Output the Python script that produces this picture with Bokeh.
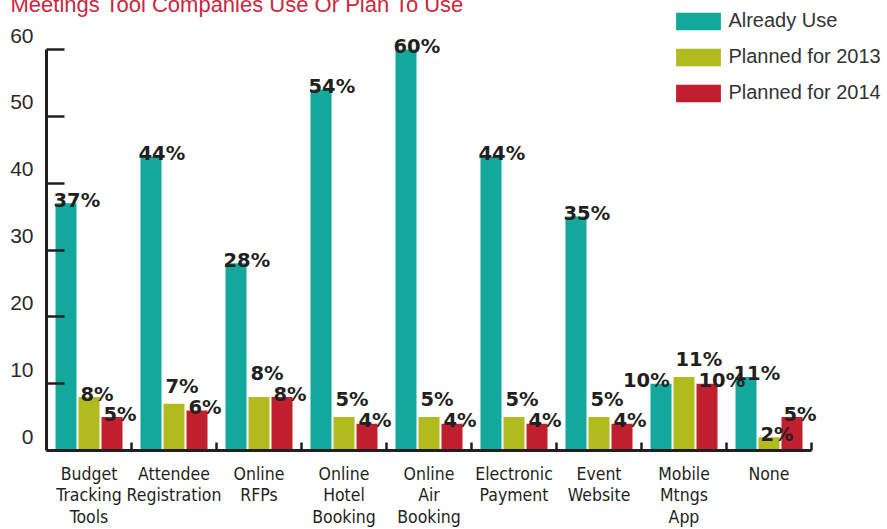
from bokeh.plotting import figure
from bokeh.models import ColumnDataSource, Range1d, LinearAxis, FixedTicker, Title, Grid
from bokeh.core.properties import value
from bokeh.embed import file_html
from bokeh.resources import INLINE

# ---------------- data ----------------
categories = ["Budget\nTracking\nTools", "Attendee\nRegistration", "Online\nRFPs",
              "Online\nHotel\nBooking", "Online\nAir\nBooking", "Electronic\nPayment",
              "Event\nWebsite", "Mobile\nMtngs\nApp", "None"]
already_use = [37, 44, 28, 54, 60, 44, 35, 10, 11]
planned_2013 = [8, 7, 8, 5, 5, 5, 5, 11, 2]
planned_2014 = [5, 6, 8, 4, 4, 4, 4, 10, 5]
series_names = ["Already Use", "Planned for 2013", "Planned for 2014"]
y_ticks = [0, 10, 20, 30, 40, 50, 60]
title_text = "Meetings Tool Companies Use Or Plan To Use"

# ---------------- layout / style ----------------
COLORS = ["#13a89c", "#b1bb1e", "#c01f2e"]
DARK = "#231f20"
W, H = 887, 529
FRAME_LEFT = 46
FRAME_TOP = 8
FRAME_BOTTOM = 450
CAT_PX = 85.0
PXU = (450 - 49) / 60.0          # pixels per value unit
BAR_PX = 21.0
STEP_PX = 23.0

x_end = (W - FRAME_LEFT) / CAT_PX
y_end = (FRAME_BOTTOM - FRAME_TOP) / PXU
n = len(categories)
series = [already_use, planned_2013, planned_2014]
offsets_px = [-STEP_PX, 0.0, STEP_PX]

p = figure(width=W, height=H, x_range=Range1d(0, x_end), y_range=Range1d(0, y_end),
           output_backend="svg", toolbar_location=None,
           x_axis_location=None, y_axis_location=None,
           min_border_left=FRAME_LEFT, min_border_right=0, min_border_top=FRAME_TOP,
           min_border_bottom=H - FRAME_BOTTOM, outline_line_color=None,
           background_fill_color="white", border_fill_color="white")
p.center = [r for r in p.center if not isinstance(r, Grid)]

# title (partly cut at the top, as in the original)
p.add_layout(Title(text=title_text, align="left", offset=10 - FRAME_LEFT, standoff=-21,
                   vertical_align="top", text_font="Liberation Sans", text_font_size="22px",
                   text_font_style="normal", text_color="#c9283e"), "above")

# bars
for s, vals in enumerate(series):
    xs = [i + 0.5 + offsets_px[s] / CAT_PX for i in range(n)]
    src = ColumnDataSource(dict(x=xs, top=vals))
    p.vbar(x="x", top="top", bottom=0, width=BAR_PX / CAT_PX, source=src,
           fill_color=COLORS[s], line_color=None, legend_label=series_names[s])

# value labels (simple collision handling like the original)
LBL_H = 14.0
def est_width(t):
    return sum(19.5 if ch == "%" else 13.5 for ch in t)

lab = dict(x=[], y=[], text=[], dx=[], dy=[])
for i in range(n):
    cx = FRAME_LEFT + (i + 0.5) * CAT_PX
    tops = [FRAME_BOTTOM - series[s][i] * PXU for s in range(3)]
    texts = [f"{series[s][i]}%" for s in range(3)]
    # red
    r_left = cx + STEP_PX - BAR_PX / 2 + 2
    r_base = tops[2] - 3
    # yellow
    y_left = cx - BAR_PX / 2 + 2
    y_base = tops[1] - 3
    if (y_left + est_width(texts[1]) > r_left and y_left < r_left + est_width(texts[2])
            and y_base > r_base - LBL_H and y_base - LBL_H < r_base):
        y_base = r_base - 21
    # teal
    t_left = cx - STEP_PX - BAR_PX / 2 - 2
    t_base = tops[0] - 3
    yb_left = cx - BAR_PX / 2
    if t_left + est_width(texts[0]) > yb_left and t_base > tops[1]:
        t_left = cx - STEP_PX + BAR_PX / 2 - 2 - est_width(texts[0])
    for s, (left, base) in enumerate([(t_left, t_base), (y_left, y_base), (r_left, r_base)]):
        bar_cx = cx + offsets_px[s]
        lab["x"].append(i + 0.5 + offsets_px[s] / CAT_PX)
        lab["y"].append(series[s][i])
        lab["text"].append(texts[s])
        lab["dx"].append(left - bar_cx)
        lab["dy"].append(base - tops[s])

p.text(x="x", y="y", text="text", x_offset="dx", y_offset="dy",
       source=ColumnDataSource(lab), text_font=value("DejaVu Sans"),
       text_font_style="bold", text_font_size="19.5px", text_color=DARK,
       text_baseline="alphabetic", text_align="left")

# y axis: line + inward ticks (labels drawn by the next axis)
ya = LinearAxis(ticker=FixedTicker(ticks=y_ticks), bounds=(0, 60),
                major_label_overrides={v: "" for v in y_ticks},
                axis_line_color=DARK, axis_line_width=3,
                major_tick_in=18, major_tick_out=0, major_tick_line_width=2.5,
                major_tick_line_color=DARK, minor_tick_line_color=None,
                major_label_standoff=0)
p.add_layout(ya, "left")
# y axis labels, raised above their ticks
shift = 14.0 / PXU
lab_ticks = [v + shift for v in y_ticks]
yb = LinearAxis(ticker=FixedTicker(ticks=lab_ticks),
                major_label_overrides={t: str(v) for t, v in zip(lab_ticks, y_ticks)},
                axis_line_color=None, major_tick_line_color=None, minor_tick_line_color=None,
                major_tick_in=0, major_tick_out=0,
                major_label_text_font="Liberation Sans", major_label_text_font_size="21px",
                major_label_text_color="#2a2a2a", major_label_standoff=13)
p.add_layout(yb, "left")

# x axis: category labels at centres, small upward ticks at boundaries
centers = [i + 0.5 for i in range(n)]
xa = LinearAxis(ticker=FixedTicker(ticks=centers, minor_ticks=[i + 1 for i in range(n)]),
                bounds=(0, n),
                major_label_overrides={c: lbl for c, lbl in zip(centers, categories)},
                axis_line_color=DARK, axis_line_width=3,
                major_tick_line_color=None, major_tick_in=0, major_tick_out=0,
                minor_tick_in=8, minor_tick_out=0, minor_tick_line_width=2.5,
                minor_tick_line_color=DARK,
                major_label_text_font="DejaVu Sans Condensed, Liberation Sans",
                major_label_text_font_size="17.5px", major_label_text_color=DARK,
                major_label_text_line_height=1.08, major_label_standoff=13)
p.add_layout(xa, "below")

# legend
leg = p.legend[0]
leg.location = (670.4 - FRAME_LEFT, FRAME_BOTTOM - 104)
leg.glyph_width = 56
leg.glyph_height = 22
leg.label_height = 22
leg.spacing = 13
leg.padding = 0
leg.margin = 0
leg.label_standoff = 2
leg.border_line_color = None
leg.background_fill_alpha = 0
leg.label_text_font = "Liberation Sans"
leg.label_text_font_size = "20px"
leg.label_text_color = "#333333"

open("out.html", "w").write(file_html(p, INLINE))
